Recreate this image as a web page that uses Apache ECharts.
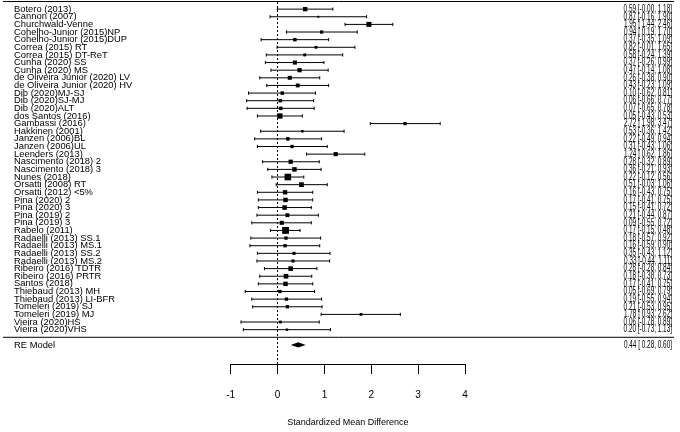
<!DOCTYPE html>
<html>
<head>
<meta charset="utf-8">
<script src="https://cdn.jsdelivr.net/npm/echarts@6/dist/echarts.min.js"></script>
<style>
html, body { margin: 0; background: #fff; }
#main { width: 680px; height: 432px; }
</style>
</head>
<body>
<div id="main"></div>
<script>
var studies = ['Botero (2013)', 'Cannon (2007)', 'Churchwald-Venne', 'Cohelho-Junior (2015)NP',
	'Cohelho-Junior (2015)DUP', 'Correa (2015) RT', 'Correa (2015) DT-ReT', 'Cunha (2020) SS',
	'Cunha (2020) MS', 'de Oliveira Junior (2020) LV', 'de Oliveira Junior (2020) HV', 'Dib (2020)MJ-SJ',
	'Dib (2020)SJ-MJ', 'Dib (2020)ALT', 'dos Santos (2016)', 'Gambassi (2016)', 'Hakkinen (2001)',
	'Janzen (2006)BL', 'Janzen (2006)UL', 'Leenders (2013)', 'Nascimento (2018) 2', 'Nascimento (2018) 3',
	'Nunes (2018)', 'Orsatti (2008) RT', 'Orsatti (2012) <5%', 'Pina (2020) 2', 'Pina (2020) 3',
	'Pina (2019) 2', 'Pina (2019) 3', 'Rabelo (2011)', 'Radaelli (2013) SS.1', 'Radaelli (2013) MS.1',
	'Radaelli (2013) SS.2', 'Radaelli (2013) MS.2', 'Ribeiro (2016) TDTR', 'Ribeiro (2016) PRTR',
	'Santos (2018)', 'Thiebaud (2013) MH', 'Thiebaud (2013) LI-BFR', 'Tomeleri (2019) SJ',
	'Tomeleri (2019) MJ', 'Vieira (2020)HS', 'Vieira (2020)VHS'];

var estimates = [0.59, 0.87, 1.95, 0.94, 0.37, 0.82, 0.58, 0.37, 0.47, 0.26, 0.43, 0.10, 0.06, 0.07,
	0.05, 2.72, 0.53, 0.22, 0.31, 1.24, 0.28, 0.36, 0.22, 0.51, 0.16, 0.17, 0.15, 0.21, 0.09, 0.17,
	0.18, 0.16, 0.35, 0.33, 0.28, 0.18, 0.17, 0.05, 0.19, 0.21, 1.78, 0.06, 0.20];

var lowers = [-0.004, -0.16, 1.44, 0.19, -0.35, -0.01, -0.24, -0.26, -0.14, -0.38, -0.23, -0.62, -0.66,
	-0.65, -0.43, 1.98, -0.36, -0.49, -0.43, 0.62, -0.32, -0.21, -0.12, -0.03, -0.43, -0.41, -0.41,
	-0.44, -0.55, -0.15, -0.57, -0.59, -0.43, -0.44, -0.28, -0.38, -0.41, -0.69, -0.55, -0.53, 0.93,
	-0.78, -0.73];

var uppers = [1.18, 1.90, 2.46, 1.70, 1.09, 1.65, 1.39, 0.99, 1.08, 0.90, 1.09, 0.81, 0.77, 0.78,
	0.53, 3.47, 1.42, 0.94, 1.06, 1.86, 0.89, 0.93, 0.56, 1.06, 0.75, 0.75, 0.72, 0.87, 0.72, 0.48,
	0.92, 0.90, 1.12, 1.11, 0.84, 0.73, 0.75, 0.79, 0.94, 0.95, 2.62, 0.89, 1.13];

var pooledLabel = 'RE Model';
var pooled = [0.44, 0.28, 0.60]; // estimate, lower, upper
var xTicks = [-1, 0, 1, 2, 3, 4];

var FONT = '"Liberation Sans", Arial, sans-serif';

// number formatting like metafor: lower bound padded with a space when positive
function fmt(v) {
	return (v < 0 ? '' : ' ') + v.toFixed(2);
}
function ciText(est, lo, hi) {
	return est.toFixed(2) + ' [' + fmt(lo) + ', ' + hi.toFixed(2) + ']';
}

// square size from (random-effects style) weights
var wts = lowers.map(function (lo, i) {
	var se = (uppers[i] - lo) / 3.92;
	return 1 / (se * se + 0.1);
});
var wMin = Math.min.apply(null, wts), wMax = Math.max.apply(null, wts);

var k = studies.length;
var rowData = studies.map(function (s, i) {
	var size = 2 + 4.8 * (wts[i] - wMin) / (wMax - wMin);
	return [k - i, estimates[i], lowers[i], uppers[i], size];
});

function sideTexts(y, name, val, api) {
	return [
		{ type: 'text', x: 14, y: y, style: { text: name, font: '9.4px ' + FONT, fill: '#000', align: 'left', verticalAlign: 'middle' } },
		{ type: 'text', x: api.getWidth() - 8, y: y, scaleX: 0.64,
			style: { text: val, font: '10px ' + FONT, fill: '#000', align: 'right', verticalAlign: 'middle' } }
	];
}

function renderStudy(params, api) {
	var row = api.value(0), est = api.value(1), lo = api.value(2), hi = api.value(3), size = api.value(4);
	var pL = api.coord([lo, row]), pR = api.coord([hi, row]), pM = api.coord([est, row]);
	var y = pM[1], cap = 1.6;
	var ls = { stroke: '#000', lineWidth: 1 };
	var kids = [
		{ type: 'line', shape: { x1: pL[0], y1: y, x2: pR[0], y2: y }, style: ls },
		{ type: 'line', shape: { x1: pL[0], y1: y - cap, x2: pL[0], y2: y + cap }, style: ls },
		{ type: 'line', shape: { x1: pR[0], y1: y - cap, x2: pR[0], y2: y + cap }, style: ls },
		{ type: 'rect', shape: { x: pM[0] - size / 2, y: y - size / 2, width: size, height: size }, style: { fill: '#000' } }
	];
	var i = params.dataIndex;
	return { type: 'group', children: kids.concat(sideTexts(y, studies[i], ciText(estimates[i], lowers[i], uppers[i]), api)) };
}

function renderPooled(params, api) {
	var row = api.value(0);
	var pE = api.coord([api.value(1), row]), pL = api.coord([api.value(2), row]), pR = api.coord([api.value(3), row]);
	var y = pE[1], h = 2.6;
	var kids = [
		{ type: 'polygon', shape: { points: [[pL[0], y], [pE[0], y - h], [pR[0], y], [pE[0], y + h]] }, style: { fill: '#000' } }
	];
	return { type: 'group', children: kids.concat(sideTexts(y, pooledLabel, ciText(pooled[0], pooled[1], pooled[2]), api)) };
}

function renderRule(params, api) {
	var y = api.coord([0, api.value(0)])[1];
	return { type: 'line', shape: { x1: 3, y1: y, x2: api.getWidth() - 6, y2: y }, style: { stroke: '#000', lineWidth: 1 } };
}

var option = {
	animation: false,
	backgroundColor: '#fff',
	grid: { left: 230.7, right: 215, top: 1.5, bottom: 66.7 },
	xAxis: {
		type: 'value', min: xTicks[0], max: xTicks[xTicks.length - 1], interval: 1,
		splitLine: { show: false },
		axisLine: { show: true, onZero: false, lineStyle: { color: '#000', width: 1 } },
		axisTick: { show: true, length: 10, lineStyle: { color: '#000' } },
		axisLabel: { margin: 26, fontSize: 10, color: '#000', fontFamily: FONT },
		name: 'Standardized Mean Difference', nameLocation: 'middle', nameGap: 54,
		nameTextStyle: { fontSize: 9, color: '#000', fontFamily: FONT }
	},
	yAxis: { type: 'value', min: -3.5, max: k + 1, show: false },
	series: [
		{
			type: 'custom', clip: false, renderItem: renderRule,
			data: [[k + 1], [0]],
			markLine: {
				silent: true, symbol: 'none', label: { show: false },
				lineStyle: { color: '#000', type: [2, 2], width: 1 },
				data: [{ xAxis: 0 }]
			}
		},
		{ type: 'custom', clip: false, renderItem: renderStudy, data: rowData },
		{ type: 'custom', clip: false, renderItem: renderPooled, data: [[-1, pooled[0], pooled[1], pooled[2]]] }
	]
};

var myChart = echarts.init(document.getElementById('main'));
myChart.setOption(option, true);
</script>
</body>
</html>
